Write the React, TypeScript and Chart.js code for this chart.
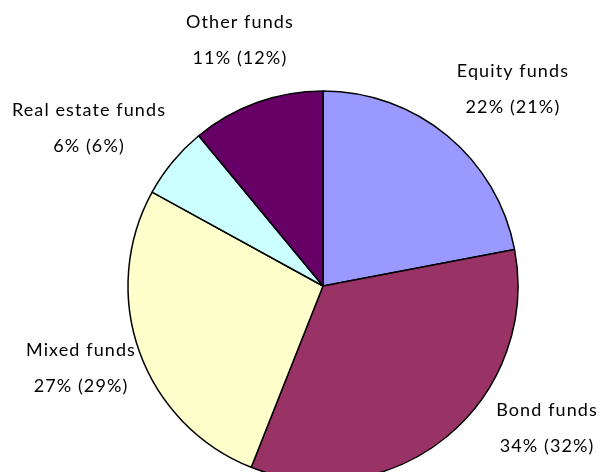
import React, { useEffect, useRef } from "react";
import { Chart, registerables } from "chart.js";

Chart.register(...registerables);

const categories = ["Equity funds", "Bond funds", "Mixed funds", "Real estate funds", "Other funds"];
const shares = [22, 34, 27, 6, 11];
const previousShares = [21, 32, 29, 6, 12];
const sliceColors = ["#9999FF", "#993366", "#FFFFCC", "#CCFFFF", "#660066"];
// label anchor relative to pie centre, in units of the pie radius
const labelOffsets: [number, number][] = [
  [0.974, -1.01],
  [1.149, 0.73],
  [-1.241, 0.421],
  [-1.2, -0.81],
  [-0.426, -1.262],
];

const FONT = "Lato, 'Open Sans', sans-serif";

const labelPlugin = {
  id: "sliceLabels",
  afterDraw(chart: any) {
    const ctx = chart.ctx;
    const meta = chart.getDatasetMeta(0);
    ctx.save();
    ctx.fillStyle = "#000";
    ctx.textAlign = "center";
    ctx.textBaseline = "middle";
    ctx.font = `18px ${FONT}`;
    try {
      (ctx as any).letterSpacing = "1.1px";
    } catch (e) {}
    meta.data.forEach((arc: any, i: number) => {
      const p = arc.getProps(["x", "y", "outerRadius"], true);
      const cx = p.x + labelOffsets[i][0] * p.outerRadius;
      const cy = p.y + labelOffsets[i][1] * p.outerRadius;
      ctx.fillText(categories[i], cx, cy - 18);
      ctx.fillText(`${shares[i]}% (${previousShares[i]}%)`, cx, cy + 18);
    });
    ctx.restore();
  },
};

export default function App() {
  const ref = useRef<HTMLCanvasElement | null>(null);
  useEffect(() => {
    if (!ref.current) return;
    const chart = new Chart(ref.current, {
      type: "pie",
      data: {
        labels: categories,
        datasets: [
          {
            data: shares,
            backgroundColor: sliceColors,
            borderColor: "#000",
            borderWidth: 1.5,
            radius: 195,
            clip: false,
          } as any,
        ],
      },
      options: {
        responsive: false,
        animation: false,
        layout: { padding: { left: 45, top: 100, right: 0, bottom: 0 } },
        plugins: {
          legend: { display: false },
          tooltip: { enabled: false },
        },
      },
      plugins: [labelPlugin],
    });
    return () => chart.destroy();
  }, []);
  return (
    <div style={{ position: "absolute", left: 0, top: 0, width: 601, height: 472, background: "#fff" }}>
      <canvas ref={ref} width={601} height={472} style={{ display: "block" }} />
    </div>
  );
}
